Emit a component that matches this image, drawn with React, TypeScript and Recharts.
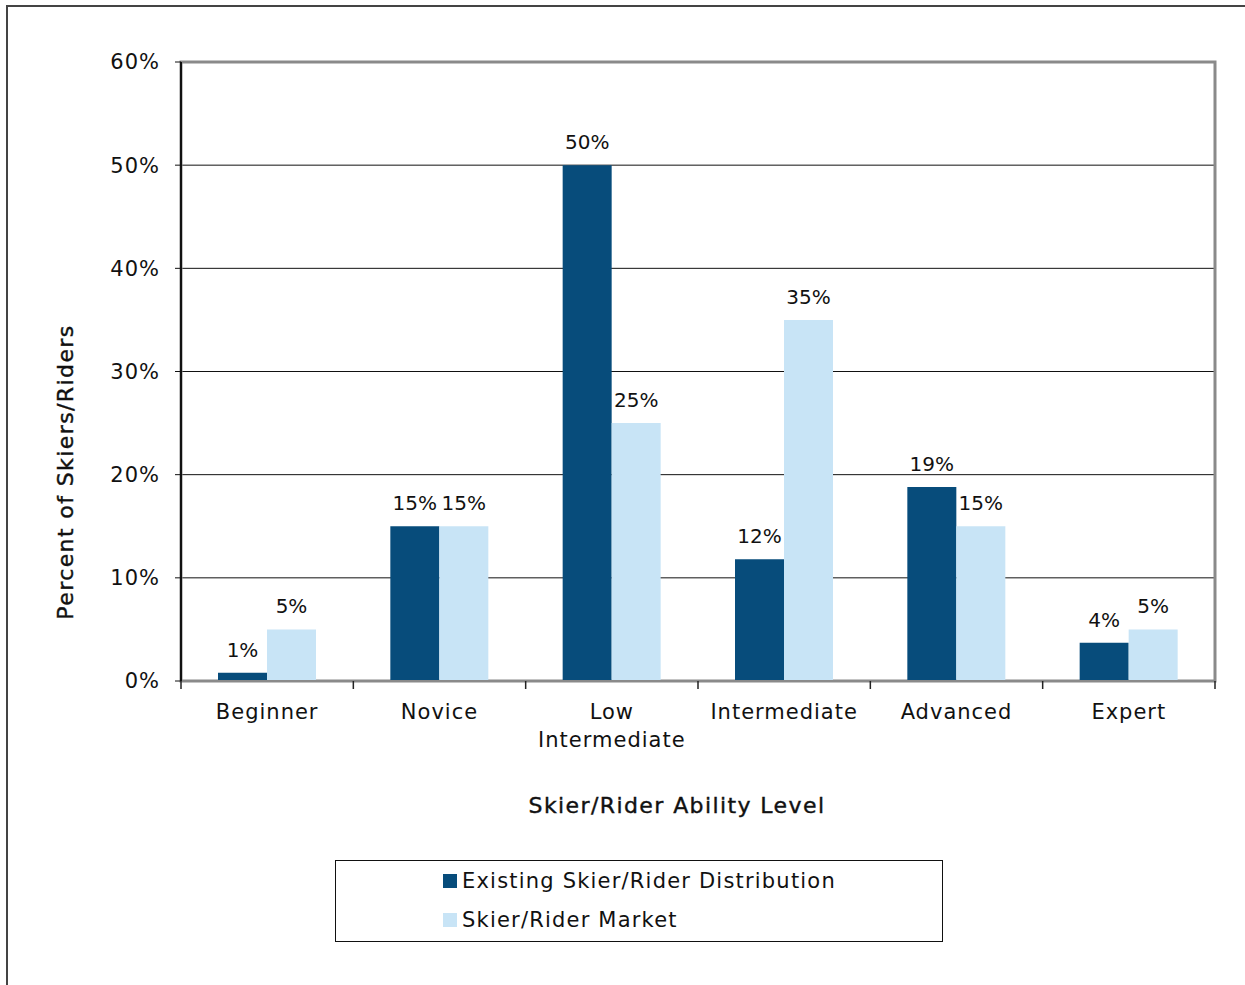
import { BarChart, Bar, XAxis, YAxis, CartesianGrid, LabelList, Label, ReferenceArea } from 'recharts';

const categories = ['Beginner', 'Novice', 'Low Intermediate', 'Intermediate', 'Advanced', 'Expert'];
const existingShare = [0.8, 15, 50, 11.8, 18.8, 3.7];
const marketShare = [5, 15, 25, 35, 15, 5];
const yTicks = [0, 10, 20, 30, 40, 50, 60];

const DARK = '#074c7b';
const LIGHT = '#c8e4f6';
const FONT = '"DejaVu Sans", sans-serif';
const TEXT = { fontSize: 21, fontFamily: FONT, fill: '#111', letterSpacing: 1 };
const VALUE_TEXT = { ...TEXT, fontSize: 20, letterSpacing: 0 };

const CHART_W = 1245;
const CHART_H = 985;
const PLOT_LEFT = 181;
const PLOT_RIGHT = 1215;
const BAND = (PLOT_RIGHT - PLOT_LEFT) / categories.length;

const data = categories.map((name, i) => ({
  name,
  existing: existingShare[i],
  market: marketShare[i],
}));

const pct = (v: number) => `${Math.round(v)}%`;

// category label at the band centre, tick marks at band edges
function CategoryTick(props: any) {
  const { x, y, payload, index } = props;
  const words = String(payload.value).split(' ');
  const lines = words.length > 1 && words.join(' ').length > 12 ? words : [words.join(' ')];
  const axisY = y - 8;
  return (
    <g>
      <line x1={x - BAND / 2} y1={axisY} x2={x - BAND / 2} y2={axisY + 8} stroke="#222" strokeWidth={1.5} />
      {index === categories.length - 1 && (
        <line x1={x + BAND / 2} y1={axisY} x2={x + BAND / 2} y2={axisY + 8} stroke="#222" strokeWidth={1.5} />
      )}
      {lines.map((ln, i) => (
        <text key={i} x={x} y={axisY + 38 + i * 28} textAnchor="middle" {...TEXT}>
          {ln}
        </text>
      ))}
    </g>
  );
}

function LegendBox() {
  const items = [
    { label: 'Existing Skier/Rider Distribution', color: DARK },
    { label: 'Skier/Rider Market', color: LIGHT },
  ];
  return (
    <div
      style={{
        position: 'absolute',
        left: 335,
        top: 860,
        width: 608,
        height: 82,
        border: '1.5px solid #111',
        boxSizing: 'border-box',
        paddingLeft: 107,
        paddingTop: 0,
        fontFamily: FONT,
        fontSize: 21,
        letterSpacing: 1.2,
        color: '#111',
      }}
    >
      {items.map((it) => (
        <div key={it.label} style={{ display: 'flex', alignItems: 'center', height: 39 }}>
          <span style={{ width: 14, height: 14, background: it.color, marginRight: 5, display: 'inline-block' }} />
          <span>{it.label}</span>
        </div>
      ))}
    </div>
  );
}

export default function App() {
  return (
    <div style={{ position: 'absolute', left: 0, top: 0, width: CHART_W, height: CHART_H, background: '#fff', overflow: 'hidden' }}>
      {/* outer frame */}
      <div
        style={{
          position: 'absolute',
          left: 6,
          top: 5,
          width: CHART_W,
          height: CHART_H,
          borderLeft: '2px solid #444',
          borderTop: '2px solid #444',
        }}
      />
      <BarChart
        width={CHART_W}
        height={CHART_H}
        data={data}
        margin={{ top: 62, right: CHART_W - PLOT_RIGHT, bottom: 164, left: 0 }}
        barGap={0}
        barSize={49}
        style={{ position: 'absolute', left: 0, top: 0 }}
      >
        <CartesianGrid vertical={false} stroke="#111" strokeWidth={1} />
        <ReferenceArea y1={0} y2={60} fill="none" stroke="#8a8a8a" strokeWidth={3} />
        <XAxis
          dataKey="name"
          interval={0}
          height={140}
          tickLine={false}
          axisLine={{ stroke: '#8a8a8a', strokeWidth: 2 }}
          tick={<CategoryTick />}
        >
          <Label
            content={() => (
              <text x={677} y={813} textAnchor="middle" fontSize={22} letterSpacing={1.4} stroke="#111" strokeWidth={0.4} fontFamily={FONT} fill="#111">
                Skier/Rider Ability Level
              </text>
            )}
          />
        </XAxis>
        <YAxis
          width={PLOT_LEFT}
          domain={[0, 60]}
          ticks={yTicks}
          interval={0}
          tickFormatter={(v: number) => `${v}%`}
          tick={TEXT}
          tickSize={6}
          tickMargin={15}
          tickLine={{ stroke: '#111' }}
          axisLine={{ stroke: '#111', strokeWidth: 2 }}
        >
          <Label
            content={() => (
              <text
                x={0}
                y={0}
                transform="translate(73 472) rotate(-90)"
                textAnchor="middle"
                fontSize={22}
                letterSpacing={1.4}
                stroke="#111"
                strokeWidth={0.4}
                fontFamily={FONT}
                fill="#111"
              >
                Percent of Skiers/Riders
              </text>
            )}
          />
        </YAxis>
        <Bar dataKey="existing" name="Existing Skier/Rider Distribution" fill={DARK} isAnimationActive={false}>
          <LabelList dataKey="existing" position="top" offset={16} formatter={(v: any) => pct(Number(v))} style={VALUE_TEXT} />
        </Bar>
        <Bar dataKey="market" name="Skier/Rider Market" fill={LIGHT} isAnimationActive={false}>
          <LabelList dataKey="market" position="top" offset={16} formatter={(v: any) => pct(Number(v))} style={VALUE_TEXT} />
        </Bar>
      </BarChart>
      <LegendBox />
    </div>
  );
}
